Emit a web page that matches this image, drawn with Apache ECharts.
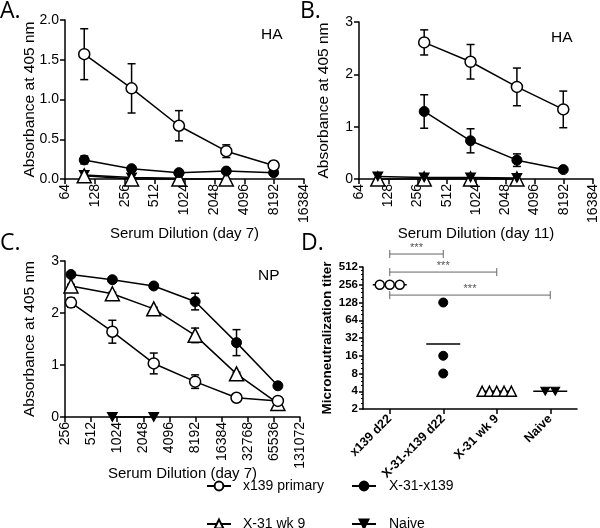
<!DOCTYPE html>
<html><head><meta charset="utf-8">
<script src="https://cdn.jsdelivr.net/npm/echarts@6/dist/echarts.min.js"></script>
<style>html,body{margin:0;padding:0;background:#fff}#c{width:600px;height:528px}</style>
</head><body><div id="c"></div>
<script>
// ---------- DATA ----------
const dilAB = [100, 300, 900, 2700, 8100];
const dilC = [300, 900, 2700, 8100, 24300, 72900];
const xRangeAB = [64, 16384];
const xRangeC = [256, 131072];

// Panel A (HA, day 7)
const A_x139 = [1.57, 1.14, 0.67, 0.35, 0.17];
const A_x139_sem = [0.32, 0.31, 0.19, 0.08, 0.05];
const A_x31x139 = [0.24, 0.13, 0.08, 0.10, 0.08];
const A_x31x139_sem = [0.05, 0.01, 0.01, 0.01, 0.01];
const A_x31wk9 = [0.04, 0.00, 0.00, 0.00, null];
const A_naive = [0.05, 0.02, 0.01, null, null];

// Panel B (HA, day 11)
const B_x139 = [null, 2.61, 2.24, 1.76, 1.33];
const B_x139_sem = [null, 0.24, 0.33, 0.36, 0.35];
const B_x31x139 = [null, 1.29, 0.73, 0.36, 0.18];
const B_x31x139_sem = [null, 0.32, 0.23, 0.12, 0.02];
const B_x31wk9 = [0.00, 0.00, 0.00, 0.00, null];
const B_naive = [0.05, 0.03, 0.03, 0.02, null];

// Panel C (NP, day 7)
const C_x31x139 = [2.74, 2.64, 2.52, 2.22, 1.43, 0.60];
const C_x31x139_sem = [0.03, 0.03, 0.03, 0.16, 0.25, 0.02];
const C_x31wk9 = [2.52, 2.37, 2.08, 1.57, 0.83, 0.26];
const C_x31wk9_sem = [0.03, 0.03, 0.03, 0.14, 0.03, 0.02];
const C_x139 = [2.20, 1.64, 1.03, 0.68, 0.37, 0.31];
const C_x139_sem = [0.09, 0.22, 0.20, 0.13, 0.06, 0.03];
const C_naive = [null, 0, 0, null, null, null];

// Panel D (microneutralization titer)
const D_cats = ['x139 d22', 'X-31-x139 d22', 'X-31 wk 9', 'Naive'];
const D_x139 = [256, 256, 256];
const D_x31x139 = [128, 16, 8];
const D_x31wk9 = [4, 4, 4, 4, 4];
const D_naive = [4, 4];
const D_center = [256, 25.4, 4, 4];
const D_sig = [[0, 1, 850, '***'], [0, 2, 420, '***'], [0, 3, 171, '***']];

// ---------- STYLE ----------
const FONT = 'Liberation Sans';
const NAMES = { x139: 'x139 primary', x31x139: 'X-31-x139', x31wk9: 'X-31 wk 9', naive: 'Naive' };
const INV_TRI = 'path://M0,0L10,0L5,9Z';
const STY = {
  x139: { symbol: 'circle', symbolSize: 11, itemStyle: { color: '#fff', borderColor: '#000', borderWidth: 1.5, opacity: 1 } },
  x31x139: { symbol: 'circle', symbolSize: 10, itemStyle: { color: '#000', borderColor: '#000', borderWidth: 1, opacity: 1 } },
  x31wk9: { symbol: 'triangle', symbolSize: 14, itemStyle: { color: '#fff', borderColor: '#000', borderWidth: 1.5, opacity: 1 } },
  naive: { symbol: INV_TRI, symbolSize: [10, 9], itemStyle: { color: '#000', borderColor: '#000', borderWidth: 1, opacity: 1 } }
};

function lineS(key, xs, ys, g) {
  const s = STY[key];
  return {
    type: 'line', name: NAMES[key], xAxisIndex: g, yAxisIndex: g,
    data: xs.map((x, i) => [x, ys[i]]).filter(d => d[1] != null),
    symbol: s.symbol, symbolSize: s.symbolSize, showSymbol: true, showAllSymbol: true,
    itemStyle: s.itemStyle, lineStyle: { color: '#000', width: 1.5 },
    emphasis: { disabled: true }, z: 3, animation: false, clip: false
  };
}
function errS(xs, ys, sem, g) {
  return {
    type: 'custom', xAxisIndex: g, yAxisIndex: g, z: 2, animation: false, silent: true, clip: false,
    data: xs.map((x, i) => (ys[i] == null || sem[i] == null) ? null : [x, ys[i] - sem[i], ys[i] + sem[i]]).filter(d => d),
    encode: { x: 0, y: [1, 2] },
    renderItem(params, api) {
      const x = api.value(0);
      const lo = api.coord([x, api.value(1)]);
      const hi = api.coord([x, api.value(2)]);
      const w = 4, st = { stroke: '#000', lineWidth: 1.5 };
      return { type: 'group', children: [
        { type: 'line', shape: { x1: lo[0], y1: lo[1], x2: hi[0], y2: hi[1] }, style: st },
        { type: 'line', shape: { x1: lo[0] - w, y1: lo[1], x2: lo[0] + w, y2: lo[1] }, style: st },
        { type: 'line', shape: { x1: hi[0] - w, y1: hi[1], x2: hi[0] + w, y2: hi[1] }, style: st }
      ]};
    }
  };
}

const axLine = { show: true, onZero: false, lineStyle: { color: '#000', width: 1.5 } };
const axTick = { show: true, length: 5, lineStyle: { color: '#000', width: 1.5 } };
function logX(g, range, nm) {
  return {
    type: 'log', logBase: 2, gridIndex: g, min: range[0], max: range[1],
    axisLine: axLine, axisTick: axTick, splitLine: { show: false },
    axisLabel: { rotate: 90, margin: 5, color: '#000', fontFamily: FONT, fontSize: 14, showMinLabel: true, showMaxLabel: true,
      formatter: v => String(Math.round(v)) },
    name: nm, nameLocation: 'middle', nameGap: 49, nameMoveOverlap: false,
    nameTextStyle: { color: '#000', fontFamily: FONT, fontSize: 15 }
  };
}
function linY(g, max, interval, dec) {
  return {
    type: 'value', gridIndex: g, min: 0, max: max, interval: interval,
    axisLine: axLine, axisTick: axTick, splitLine: { show: false },
    axisLabel: { margin: 6, color: '#000', fontFamily: FONT, fontSize: 14, formatter: v => v.toFixed(dec) },
    name: 'Absorbance at 405 nm', nameLocation: 'middle', nameGap: 27, nameMoveOverlap: false,
    nameTextStyle: { color: '#000', fontFamily: FONT, fontSize: 15.5 }
  };
}

// Panel D scatter with jitter for identical values
function dotS(key, cat, vals, spacing) {
  const s = STY[key];
  const groups = {};
  vals.forEach(v => { groups[v] = (groups[v] || 0) + 1; });
  const seen = {};
  const data = vals.map(v => {
    const n = groups[v]; const k = seen[v] = (seen[v] == null ? 0 : seen[v] + 1);
    return { value: [cat, v], symbolOffset: [(k - (n - 1) / 2) * spacing, 0] };
  });
  return {
    type: 'scatter', name: NAMES[key], xAxisIndex: 3, yAxisIndex: 3, data,
    symbol: s.symbol, symbolSize: key === 'x31wk9' ? 10 : (key === 'naive' ? [9, 8] : 9),
    itemStyle: s.itemStyle, z: 4, animation: false, emphasis: { disabled: true }
  };
}

const series = [
  errS(dilAB, A_x139, A_x139_sem, 0), errS(dilAB, A_x31x139, A_x31x139_sem, 0),
  lineS('naive', dilAB, A_naive, 0), lineS('x31wk9', dilAB, A_x31wk9, 0),
  lineS('x31x139', dilAB, A_x31x139, 0), lineS('x139', dilAB, A_x139, 0),

  errS(dilAB, B_x139, B_x139_sem, 1), errS(dilAB, B_x31x139, B_x31x139_sem, 1),
  lineS('x31wk9', dilAB, B_x31wk9, 1), lineS('naive', dilAB, B_naive, 1),
  lineS('x31x139', dilAB, B_x31x139, 1), lineS('x139', dilAB, B_x139, 1),

  errS(dilC, C_x31x139, C_x31x139_sem, 2), errS(dilC, C_x31wk9, C_x31wk9_sem, 2), errS(dilC, C_x139, C_x139_sem, 2),
  lineS('naive', dilC, C_naive, 2), lineS('x31x139', dilC, C_x31x139, 2),
  lineS('x31wk9', dilC, C_x31wk9, 2), lineS('x139', dilC, C_x139, 2),

  {
    type: 'scatter', xAxisIndex: 3, yAxisIndex: 3, silent: true, animation: false, z: 3,
    data: D_center.map((v, i) => [i, v]), symbol: 'rect', symbolSize: [34, 1.5],
    itemStyle: { color: '#000', opacity: 1 }
  },
  dotS('x139', 0, D_x139, 10), dotS('x31x139', 1, D_x31x139, 10),
  dotS('x31wk9', 2, D_x31wk9, 7.3), dotS('naive', 3, D_naive, 10),
  {
    type: 'custom', xAxisIndex: 3, yAxisIndex: 3, silent: true, animation: false, clip: false, z: 5,
    data: D_sig, encode: { x: [0, 1], y: 2 },
    renderItem(params, api) {
      const a = api.coord([api.value(0), api.value(2)]);
      const b = api.coord([api.value(1), api.value(2)]);
      const st = { stroke: '#666', lineWidth: 1 };
      return { type: 'group', children: [
        { type: 'line', shape: { x1: a[0], y1: a[1], x2: b[0], y2: b[1] }, style: st },
        { type: 'line', shape: { x1: a[0], y1: a[1] - 4, x2: a[0], y2: a[1] + 4 }, style: st },
        { type: 'line', shape: { x1: b[0], y1: b[1] - 4, x2: b[0], y2: b[1] + 4 }, style: st },
        { type: 'text', style: { x: (a[0] + b[0]) / 2, y: a[1] - 1, text: D_sig[params.dataIndex][3],
          textAlign: 'center', textVerticalAlign: 'bottom', fill: '#555', font: '11px ' + FONT } }
      ]};
    }
  }
];

const titleStyle = (t, left, top, size, fam) => ({
  text: t, left, top, padding: 0,
  textStyle: { fontFamily: fam || FONT, fontSize: size, fontWeight: 'normal', color: '#000' }
});

const legendBase = { orient: 'vertical', top: 479, itemWidth: 24, itemHeight: 11, itemGap: 24, padding: 0,
  height: 60, selectedMode: false };

const option = {
  backgroundColor: '#fff',
  animation: false,
  title: [
    titleStyle('A.', 0, 0, 23, 'Open Sans'),
    titleStyle('B.', 300, 0, 23, 'Open Sans'),
    titleStyle('C.', 0, 232, 23, 'Open Sans'),
    titleStyle('D.', 301, 232, 23, 'Open Sans'),
    titleStyle('HA', 261, 27, 15.5),
    titleStyle('HA', 551, 30, 15.5),
    titleStyle('NP', 258, 268, 15.5)
  ],
  grid: [
    { left: 65, top: 20, width: 239, height: 159 },
    { left: 359, top: 22, width: 235, height: 157 },
    { left: 65, top: 261, width: 235, height: 156 },
    { left: 363, top: 267, width: 214, height: 142 }
  ],
  xAxis: [
    Object.assign(logX(0, xRangeAB, 'Serum Dilution (day 7)'), { nameGap: 47 }),
    Object.assign(logX(1, xRangeAB, 'Serum Dilution (day 11)'), { nameGap: 47 }),
    logX(2, xRangeC, 'Serum Dilution (day 7)'),
    {
      type: 'category', gridIndex: 3, data: D_cats, boundaryGap: true,
      axisLine: axLine, axisTick: Object.assign({}, axTick, { alignWithLabel: true }),
      axisLabel: { rotate: 45, margin: 8, interval: 0, color: '#000', fontFamily: FONT, fontSize: 12.5, fontWeight: 'bold' }
    }
  ],
  yAxis: [
    linY(0, 2, 0.5, 1),
    linY(1, 3, 1, 0),
    linY(2, 3, 1, 0),
    {
      type: 'log', logBase: 2, gridIndex: 3, min: 2, max: 512,
      axisLine: axLine, axisTick: Object.assign({}, axTick, { length: 4 }), splitLine: { show: false },
      minorTick: { show: true, splitNumber: 4, length: 2, lineStyle: { color: '#000', width: 1 } },
      axisLabel: { margin: 5, color: '#000', fontFamily: FONT, fontSize: 11.5, fontWeight: 'bold', showMinLabel: true, showMaxLabel: true,
        formatter: v => String(Math.round(v)) },
      name: 'Microneutralization titer', nameLocation: 'middle', nameGap: 29, nameMoveOverlap: false,
      nameTextStyle: { color: '#000', fontFamily: FONT, fontSize: 13.5, fontWeight: 'bold' }
    }
  ],
  legend: [
    Object.assign({}, legendBase, { data: [NAMES.x139, NAMES.x31wk9], left: 206,
      textStyle: { fontFamily: FONT, fontSize: 14, color: '#000', padding: [0, 0, 0, 7] } }),
    Object.assign({}, legendBase, { data: [NAMES.x31x139, NAMES.naive], left: 351,
      textStyle: { fontFamily: FONT, fontSize: 14, color: '#000', padding: [0, 0, 0, 8] } })
  ],
  series
};
const chart = echarts.init(document.getElementById('c'), null, { renderer: 'canvas' });
chart.setOption(option);
</script>
</body></html>
